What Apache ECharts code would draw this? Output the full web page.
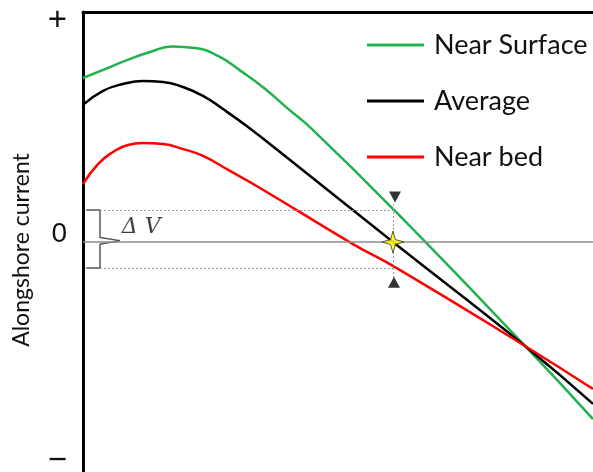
<!DOCTYPE html>
<html>
<head>
<meta charset="utf-8">
<script src="https://cdn.jsdelivr.net/npm/echarts@6/dist/echarts.min.js"></script>
<style>
  html, body { margin: 0; padding: 0; background: #fff; }
  #chart { width: 593px; height: 472px; }
</style>
</head>
<body>
<div id="chart"></div>
<script>
// Cross-shore position (arbitrary units, 0 at the left axis)
const nearSurfaceX = [0, 0.431, 0.863, 1.314, 1.745, 2.196, 2.647, 3.098, 3.549, 4.0, 4.49, 6.118, 8.667, 10];
const nearSurfaceY = [0.713, 0.752, 0.791, 0.826, 0.85, 0.843, 0.809, 0.743, 0.67, 0.583, 0.491, 0.135, -0.452, -0.77];

const averageX = [0, 0.392, 0.784, 1.176, 1.569, 1.961, 2.353, 2.745, 3.235, 3.863, 6.078, 8.667, 10];
const averageY = [0.596, 0.657, 0.687, 0.7, 0.696, 0.674, 0.635, 0.578, 0.5, 0.391, 0, -0.452, -0.704];

const nearBedX = [0, 0.294, 0.588, 0.882, 1.176, 1.569, 1.961, 2.353, 2.882, 3.471, 5.294, 6.118, 8.667, 10];
const nearBedY = [0.252, 0.339, 0.391, 0.422, 0.43, 0.426, 0.404, 0.374, 0.309, 0.235, -0.009, -0.109, -0.452, -0.639];

// Y-axis tick positions and labels
const tickValues = [-0.952, 0.035, 0.963];
const tickLabels = ['\u2212', '0', '+'];

// Reference point where the depth-averaged current is zero, and the spread ΔV
const refX = 6.078;
const dvTop = 0.139;
const dvBottom = -0.113;
const markerDownY = 0.196;
const markerUpY = -0.175;

// Brace around ΔV next to the axis
const braceX = [0.06, 0.333, 0.333, 0.725, 0.333, 0.333, 0.06];
const braceY = [dvTop, dvTop, 0.02, 0.006, -0.01, dvBottom, dvBottom];

const zip = (xs, ys) => xs.map((x, i) => [x, ys[i]]);

const starPath = 'path://M0,-10 L2.2,-2.2 L10,0 L2.2,2.2 L0,10 L-2.2,2.2 L-10,0 L-2.2,-2.2 Z';
const font = 'Lato, "Open Sans", sans-serif';
const curve = { type: 'line', smooth: 0.5, showSymbol: false };

const chart = echarts.init(document.getElementById('chart'));
chart.setOption({
  animation: false,
  backgroundColor: '#fff',
  grid: { left: 83, right: 0, top: 12, bottom: 0, outerBoundsMode: 'none', containLabel: false },
  legend: {
    orient: 'vertical',
    left: 367,
    top: 30,
    padding: 0,
    itemWidth: 57,
    itemHeight: 3,
    itemGap: 26,
    icon: 'rect',
    data: ['Near Surface', 'Average', 'Near bed'],
    textStyle: { fontFamily: font, fontSize: 27, color: '#111', lineHeight: 30, padding: [0, 0, 0, 5] }
  },
  xAxis: [
    { type: 'value', min: 0, max: 10, show: true,
      axisLine: { show: false }, axisTick: { show: false }, axisLabel: { show: false }, splitLine: { show: false } },
    { type: 'value', min: 0, max: 10, position: 'top',
      axisLine: { show: true, lineStyle: { color: '#000', width: 3 } },
      axisTick: { show: false }, axisLabel: { show: false }, splitLine: { show: false } }
  ],
  yAxis: {
    type: 'value', min: -1, max: 1,
    name: 'Alongshore current',
    nameLocation: 'middle',
    nameGap: 50,
    nameTextStyle: { fontFamily: font, fontSize: 23, color: '#111', padding: [0, 16, 0, 0] },
    axisLine: { show: true, lineStyle: { color: '#000', width: 3 } },
    axisTick: { show: false },
    splitLine: { show: false },
    axisLabel: {
      customValues: tickValues,
      margin: 16,
      fontFamily: '"Liberation Sans", Arial, sans-serif', fontSize: 28, color: '#111',
      formatter: v => {
        const t = tickLabels[tickValues.indexOf(v)];
        return t === '0' ? t : '{s|' + t + '}';
      },
      rich: { s: { fontFamily: '"Liberation Sans", Arial, sans-serif', fontSize: 33, color: '#111' } }
    }
  },
  series: [
    {
      name: 'zero', type: 'line', data: [], silent: true,
      markLine: {
        silent: true, symbol: 'none', label: { show: false },
        lineStyle: { color: '#8c8c8c', width: 1.5, type: 'solid' },
        data: [{ yAxis: 0 }]
      }
    },
    {
      name: 'guides', type: 'line', data: [], silent: true,
      markLine: {
        silent: true, symbol: 'none', label: { show: false },
        lineStyle: { color: '#9a9a9a', width: 1, type: [2, 2] },
        data: [
          [{ coord: [0.333, dvTop] }, { coord: [refX, dvTop] }],
          [{ coord: [0.333, dvBottom] }, { coord: [refX, dvBottom] }],
          [{ coord: [refX, 0.165] }, { coord: [refX, -0.155] }]
        ]
      }
    },
    {
      name: 'brace', type: 'line', data: zip(braceX, braceY), silent: true,
      showSymbol: false, lineStyle: { color: '#555', width: 1.5 }
    },
    Object.assign({}, curve, {
      name: 'Near Surface', data: zip(nearSurfaceX, nearSurfaceY),
      lineStyle: { color: '#22b14c', width: 2.5 }, itemStyle: { color: '#22b14c' }
    }),
    Object.assign({}, curve, {
      name: 'Average', data: zip(averageX, averageY),
      lineStyle: { color: '#000', width: 2.5 }, itemStyle: { color: '#000' }
    }),
    Object.assign({}, curve, {
      name: 'Near bed', data: zip(nearBedX, nearBedY),
      lineStyle: { color: '#ff0000', width: 2.5 }, itemStyle: { color: '#ff0000' }
    }),
    {
      name: 'markers', type: 'scatter', silent: true,
      data: [
        { value: [refX + 0.04, markerDownY], symbol: 'triangle', symbolRotate: 180, symbolSize: [12, 11], itemStyle: { color: '#000' } },
        { value: [refX + 0.02, markerUpY], symbol: 'triangle', symbolSize: [12, 11], itemStyle: { color: '#000' } },
        { value: [refX, 0], symbol: starPath, symbolSize: 22, itemStyle: { color: '#ffff00', borderColor: '#333', borderWidth: 1 } }
      ],
      z: 5
    },
    {
      name: 'dvLabel', type: 'scatter', silent: true, symbolSize: 0,
      data: [[0.76, 0.065]],
      label: {
        show: true, position: 'right', distance: 0, formatter: '\u0394 V',
        fontFamily: '"DejaVu Serif", "Liberation Serif", serif', fontStyle: 'italic',
        fontSize: 22, color: '#111'
      }
    }
  ]
});
</script>
</body>
</html>
